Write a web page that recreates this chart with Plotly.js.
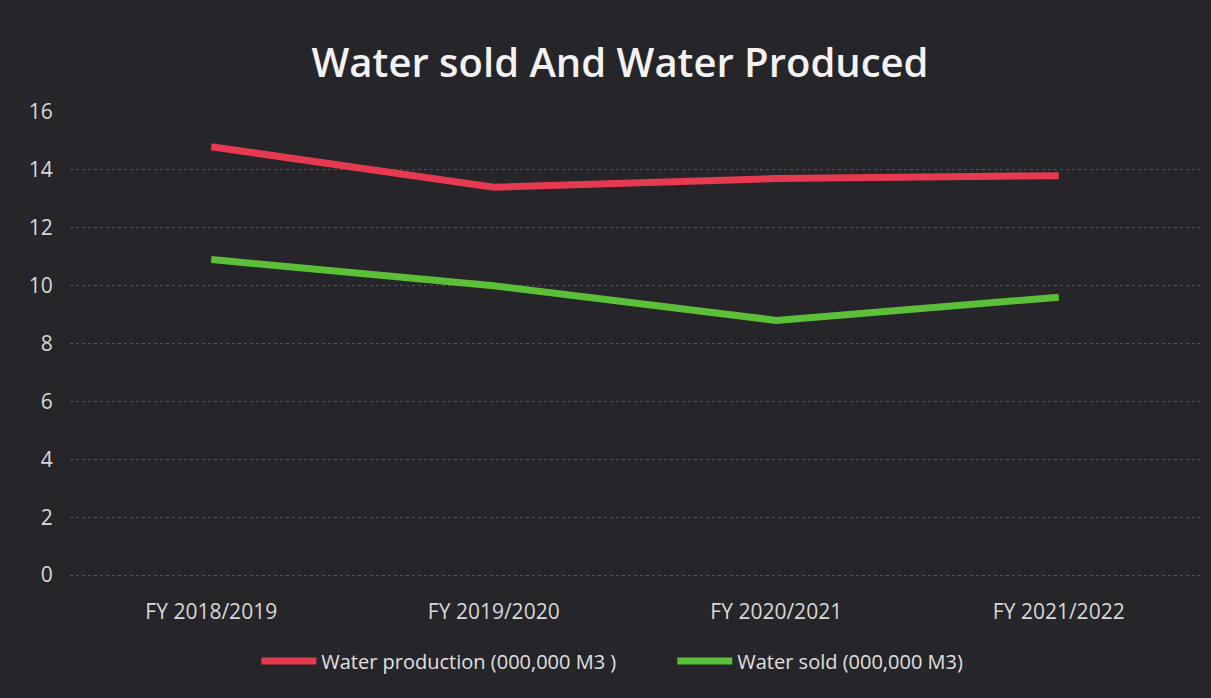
<!DOCTYPE html>
<html>
<head>
<meta charset="utf-8">
<script src="https://cdn.plot.ly/plotly-3.0.1.min.js"></script>
<style>
  html, body { margin: 0; padding: 0; background: #252428; }
  #chart { width: 1211px; height: 698px; }
</style>
</head>
<body>
<div id="chart"></div>
<script>
const categories = ["FY 2018/2019", "FY 2019/2020", "FY 2020/2021", "FY 2021/2022"];
const waterProduction = [14.8, 13.4, 13.7, 13.8];
const waterSold = [10.9, 10.0, 8.8, 9.6];
const yTicks = [0, 2, 4, 6, 8, 10, 12, 14, 16];

const traces = [
  {
    x: categories, y: waterProduction, type: "scatter", mode: "lines",
    name: "Water production (000,000 M3 )",
    line: { color: "#e63a50", width: 7 }
  },
  {
    x: categories, y: waterSold, type: "scatter", mode: "lines",
    name: "Water sold (000,000 M3)",
    line: { color: "#5cbf38", width: 7 }
  }
];

const layout = {
  width: 1211, height: 698,
  paper_bgcolor: "#262529", plot_bgcolor: "rgba(0,0,0,0)",
  margin: { l: 70, r: 11, t: 112, b: 120 },
  font: { family: "Open Sans, sans-serif", color: "#d8d8d8", size: 21 },
  title: {
    text: "Water sold And Water Produced",
    font: { family: "Open Sans, sans-serif", size: 40, weight: 600, color: "#f2f2f2" },
    x: 0.512, xanchor: "center", y: 0.91, yanchor: "middle"
  },
  xaxis: {
    type: "category", range: [-0.5, 3.5], showgrid: false, zeroline: false, showline: false,
    ticks: "outside", ticklen: 15, tickcolor: "rgba(0,0,0,0)",
    tickfont: { size: 21, color: "#d8d8d8" }
  },
  yaxis: {
    range: [-0.1, 16], tickvals: yTicks, showline: false, zeroline: false,
    gridcolor: "rgba(200,200,200,0.28)", griddash: "dot", gridwidth: 1,
    ticks: "outside", ticklen: 12, tickcolor: "rgba(0,0,0,0)",
    tickfont: { size: 21, color: "#d8d8d8" }, fixedrange: true
  },
  showlegend: true,
  legend: {
    orientation: "h", x: 0.533, xanchor: "center", y: -0.178, yanchor: "middle",
    font: { size: 20, color: "#e0e0e0" }, bgcolor: "rgba(0,0,0,0)",
    itemwidth: 55, tracegroupgap: 0, entrywidth: 346, entrywidthmode: "pixels"
  }
};

Plotly.newPlot("chart", traces, layout, { displayModeBar: false, staticPlot: true });
</script>
</body>
</html>
